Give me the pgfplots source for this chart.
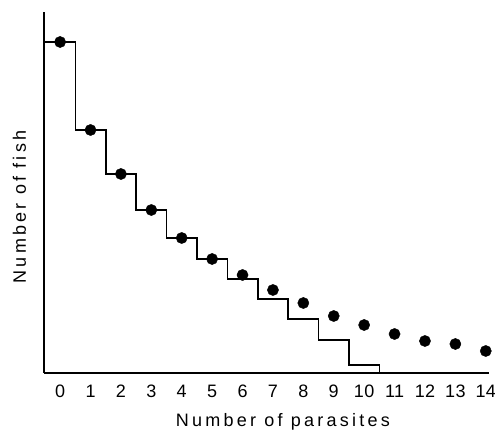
\documentclass[border=0pt]{standalone}
\usepackage{fontspec}
\setmainfont{Liberation Sans}
\newfontfamily\labfont[LetterSpace=18]{Liberation Sans}
\newfontfamily\tickfont[LetterSpace=2]{Liberation Sans}
\usepackage{pgfplots}
\pgfplotsset{compat=1.18}
\begin{document}
\begin{tikzpicture}
\begin{axis}[
  name=ax,
  scale only axis,
  width=444.8pt, height=361pt,
  xmin=-0.53, xmax=14.1,
  ymin=0, ymax=361,
  axis x line*=bottom,
  axis y line*=left,
  axis line style={line width=1.1pt},
  xtick={0,...,14},
  ytick=\empty,
  major tick length=0pt,
  /pgf/number format/assume math mode=true,
  xticklabel style={font=\tickfont\fontsize{18}{18}\selectfont, anchor=base, yshift=-25pt},
  xlabel={Number of parasites},
  xlabel style={font=\labfont\fontsize{18}{18}\selectfont, at={(axis description cs:0.537,0)}, anchor=base, yshift=-54pt},
  clip=false,
]
% observed frequencies (step histogram)
\addplot[const plot mark left, black, line width=1.6pt, mark=none] coordinates {
  (-0.53,331) (0.5,243) (1.5,199) (2.5,163) (3.5,135) (4.5,114) (5.5,94)
  (6.5,74) (7.5,54) (8.5,33) (9.5,8) (10.5,0)
};
% expected frequencies (dots)
\addplot[only marks, mark=*, mark size=5.6pt, black] coordinates {
  (0,331) (1,243) (2,199) (3,163) (4,135) (5,114) (6,98) (7,83)
  (8,70) (9,57) (10,48) (11,39) (12,32) (13,29) (14,22)
};
\node[font=\labfont\fontsize{18}{18}\selectfont, rotate=90, anchor=center, xshift=0pt]
  at ([xshift=-24.5pt]axis description cs:0,0.46) {Number of fish};
\end{axis}
\pgfresetboundingbox
\path[use as bounding box] (ax.south west) ++(-44pt,-57pt) rectangle ++(495pt,430pt);
\end{tikzpicture}
\end{document}
